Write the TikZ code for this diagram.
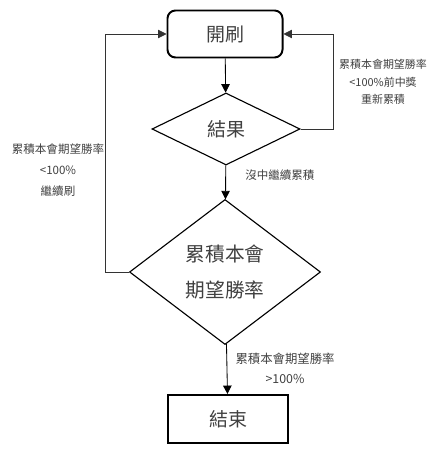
\documentclass[tikz,border=0pt]{standalone}
\usepackage{fontspec}
\setmainfont{Noto Sans CJK TC}
\usetikzlibrary{shapes.geometric,arrows.meta}

\tikzset{
  flow/.style={text=black!75,font=\fontsize{13.5}{16}\selectfont},
  startbox/.style={flow,draw,line width=1.4pt,rounded corners=0.2cm,minimum width=2.875cm,minimum height=1.175cm},
  endbox/.style={flow,draw,line width=1.4pt,minimum width=3cm,minimum height=1.2cm},
  decide/.style={flow,draw,diamond,line width=0.8pt,inner sep=0pt},
  lbl/.style={text=black!75,align=center,inner sep=0pt},
  tip/.style={-{Triangle[width=6pt,length=6pt]}}
}

\begin{document}
\begin{tikzpicture}[x=0.025cm,y=-0.025cm]
 \useasboundingbox (0,0) rectangle (440,451);

 \node[startbox] (start) at (225,34) {開刷};
 \node[decide,minimum width=3.7cm,minimum height=1.8cm] (res) at (226,129) {結果};
 \node[decide,minimum width=4.775cm,minimum height=3.625cm,align=center,
   font=\fontsize{14}{25}\selectfont] (tot) at (225,272) {累積本會\\期望勝率};
 \node[endbox] (stop) at (228,419) {結束};

 % main line downwards
 \draw[tip,line width=0.6pt] (start) -- (res);
 \draw[tip,line width=0.6pt] (res) -- (tot);
 \draw[tip,line width=0.6pt] (tot) -- (stop);

 % loops back to the start
 \draw[tip,line width=0.5pt,black!80] (tot.west) -- ++(-24,0) |- (start.west);
 \draw[tip,line width=0.5pt,black!80] (res.east) -- ++(33,0) |- (start.east);

 \node[lbl,font=\fontsize{7.8}{12.4}\selectfont] (lblright) at (383,82) {累積本會期望勝率\\<100\%前中獎\\重新累積};
 \node[lbl,font=\fontsize{8.2}{15}\selectfont] (lblleft) at (58,170) {累積本會期望勝率\\<100\%\\繼續刷};
 \node[lbl,font=\fontsize{8.2}{12}\selectfont,anchor=west] (lblmiss) at (245,175) {沒中繼續累積};
 \node[lbl,font=\fontsize{8.8}{14.2}\selectfont] (lblend) at (285,368) {累積本會期望勝率\\>100\%};

\end{tikzpicture}
\end{document}
